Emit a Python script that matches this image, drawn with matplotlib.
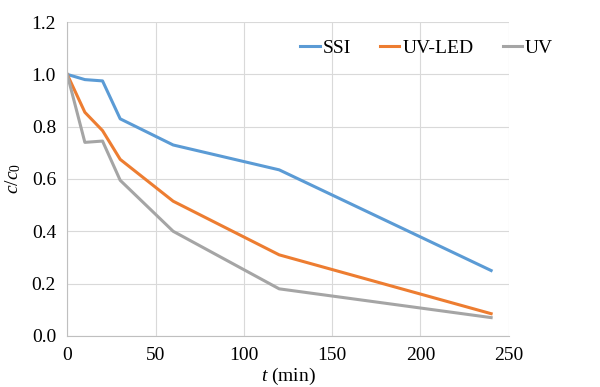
import matplotlib.pyplot as plt

plt.rcParams['font.family'] = ['Liberation Serif', 'DejaVu Serif']
plt.rcParams['mathtext.fontset'] = 'custom'
plt.rcParams['mathtext.rm'] = 'Liberation Serif'
plt.rcParams['mathtext.it'] = 'Liberation Serif:italic'

# data
t = [0, 10, 20, 30, 60, 120, 240]
ssi = [1.0, 0.98, 0.975, 0.83, 0.73, 0.635, 0.25]
uv_led = [1.0, 0.855, 0.785, 0.675, 0.515, 0.31, 0.085]
uv = [1.0, 0.74, 0.745, 0.595, 0.40, 0.18, 0.07]

fig = plt.figure(figsize=(6, 3.87), dpi=100)
ax = fig.add_axes([0.112, 0.132, 0.736, 0.811])

ax.plot(t, ssi, color="#5B9BD5", lw=2.2, label="SSI")
ax.plot(t, uv_led, color="#ED7D31", lw=2.2, label="UV-LED")
ax.plot(t, uv, color="#A5A5A5", lw=2.2, label="UV")

ax.set_xlim(0, 250)
ax.set_ylim(0, 1.2)
ax.set_xticks([0, 50, 100, 150, 200, 250])
ax.set_yticks([0, 0.2, 0.4, 0.6, 0.8, 1.0, 1.2])
ax.set_yticklabels(["0.0", "0.2", "0.4", "0.6", "0.8", "1.0", "1.2"])
ax.grid(True, color="#D9D9D9", lw=0.8)
ax.set_axisbelow(True)
for s in ["top", "right"]:
    ax.spines[s].set_visible(False)
for s in ["left", "bottom"]:
    ax.spines[s].set_color("#BFBFBF")
ax.tick_params(length=0, labelsize=14, pad=8)

ax.set_xlabel("$t$ (min)", fontsize=14, labelpad=1)
ax.set_ylabel("$c/c_0$", fontsize=14, labelpad=6)

ax.legend(loc="upper right", bbox_to_anchor=(1.14, 1.0), ncol=3, frameon=False,
          fontsize=14, handlelength=1.0, handletextpad=0.15, columnspacing=1.5)

plt.savefig("out.png", dpi=100)
plt.close()
